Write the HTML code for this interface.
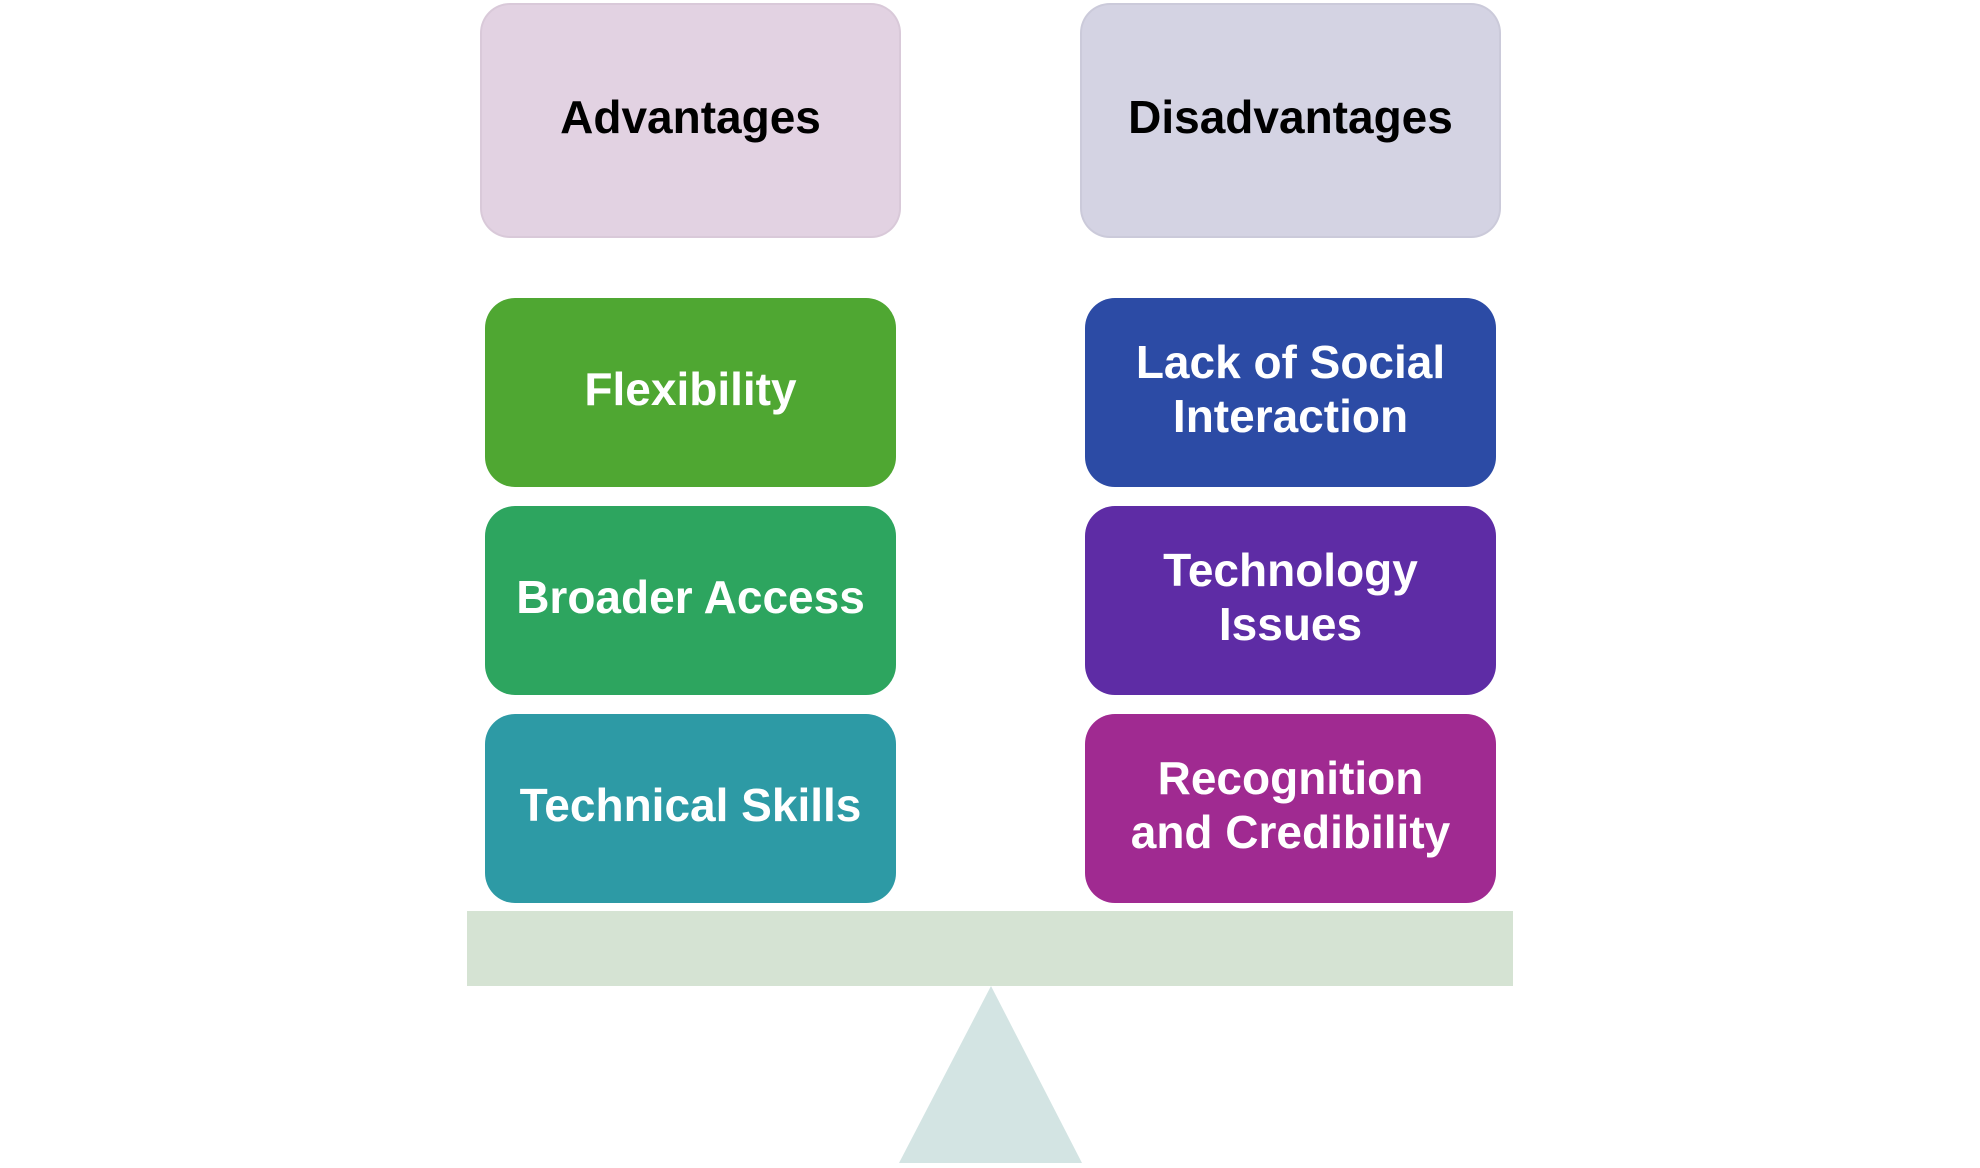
<!DOCTYPE html>
<html><head><meta charset="utf-8"><style>
html,body{margin:0;padding:0;background:#fff;}
body{width:1980px;height:1168px;position:relative;overflow:hidden;font-family:"Liberation Sans",sans-serif;font-weight:bold;}
.box{position:absolute;display:flex;align-items:center;justify-content:center;text-align:center;box-sizing:border-box;border-radius:30px;font-size:46px;line-height:54px;color:#fff;padding-bottom:7px;}
.hdr{color:#000;border:2px solid rgba(0,0,0,0.04);}
</style></head><body>
<div class="box hdr" style="left:480px;top:3px;width:421px;height:235px;background:#E2D2E2;">Advantages</div>
<div class="box hdr" style="left:1080px;top:3px;width:421px;height:235px;background:#D4D3E3;">Disadvantages</div>

<div class="box" style="left:485px;top:298px;width:411px;height:189px;background:#4FA732;">Flexibility</div>
<div class="box" style="left:485px;top:506px;width:411px;height:189px;background:#2DA55F;">Broader Access</div>
<div class="box" style="left:485px;top:714px;width:411px;height:189px;background:#2D9AA5;">Technical Skills</div>

<div class="box" style="left:1085px;top:298px;width:411px;height:189px;background:#2C4BA5;">Lack of Social<br>Interaction</div>
<div class="box" style="left:1085px;top:506px;width:411px;height:189px;background:#5E2CA5;">Technology<br>Issues</div>
<div class="box" style="left:1085px;top:714px;width:411px;height:189px;background:#A02A91;">Recognition<br>and Credibility</div>

<div style="position:absolute;left:467px;top:911px;width:1046px;height:75px;background:#D5E3D3;"></div>
<svg style="position:absolute;left:0;top:0" width="1980" height="1168">
<polygon points="991,986 899,1163 1082,1163" fill="#D3E4E3"/>
</svg>
</body></html>
